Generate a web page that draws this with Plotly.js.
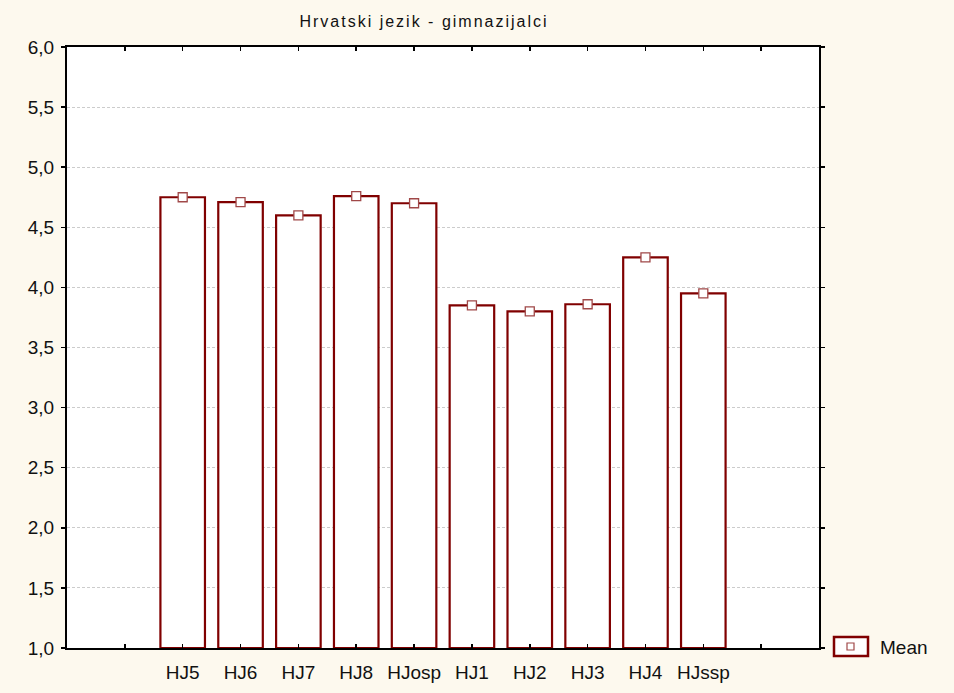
<!DOCTYPE html>
<html>
<head>
<meta charset="utf-8">
<script src="https://cdn.plot.ly/plotly-3.0.1.min.js"></script>
<style>
html,body{margin:0;padding:0;background:#fdf9ee;}
#chart{width:954px;height:693px;}
#chart .gtitle{letter-spacing:2px;}
</style>
</head>
<body>
<div id="chart"></div>
<script>
var categories = ['HJ5', 'HJ6', 'HJ7', 'HJ8', 'HJosp', 'HJ1', 'HJ2', 'HJ3', 'HJ4', 'HJssp'];
var means = [4.75, 4.71, 4.60, 4.76, 4.70, 3.85, 3.80, 3.86, 4.25, 3.95];
var padCategories = [' ', '  '];
var yTicks = [1.0, 1.5, 2.0, 2.5, 3.0, 3.5, 4.0, 4.5, 5.0, 5.5, 6.0];
var yTickLabels = ['1,0', '1,5', '2,0', '2,5', '3,0', '3,5', '4,0', '4,5', '5,0', '5,5', '6,0'];
var titleText = 'Hrvatski jezik - gimnazijalci';
var legendLabel = 'Mean';

var allCats = [padCategories[0]].concat(categories).concat([padCategories[1]]);
var base = 1.0;
var FONT = 'Arial, "Liberation Sans", sans-serif';

var traces = [
  {
    type: 'scatter', mode: 'markers', x: padCategories, y: [null, null],
    showlegend: false, hoverinfo: 'skip'
  },
  {
    type: 'bar', x: categories,
    y: means.map(function (v) { return v - base; }),
    base: base,
    width: 0.77,
    marker: { color: '#ffffff', line: { color: '#800000', width: 2.2 } },
    showlegend: false, hoverinfo: 'skip'
  },
  {
    type: 'scatter', mode: 'markers', x: categories, y: means,
    marker: { symbol: 'square', size: 9, color: '#ffffff', line: { color: '#a04848', width: 1.3 } },
    showlegend: false, hoverinfo: 'skip'
  }
];

var layout = {
  width: 954, height: 693,
  paper_bgcolor: '#fdf9ee',
  plot_bgcolor: '#ffffff',
  margin: { l: 67, r: 135, t: 47, b: 45 },
  showlegend: false,
  title: {
    text: titleText,
    font: { family: FONT, size: 16, color: '#111' },
    x: 424 / 954, xanchor: 'center', y: 1 - 21 / 693, yanchor: 'middle'
  },
  bargap: 0,
  xaxis: {
    type: 'category',
    categoryorder: 'array', categoryarray: allCats,
    range: [-1, 12],
    showline: true, linecolor: '#000', linewidth: 2, mirror: 'ticks',
    ticks: 'inside', ticklen: 4, tickwidth: 1.5, tickcolor: '#000',
    ticklabelstandoff: 6,
    showgrid: false, zeroline: false,
    tickfont: { family: FONT, size: 19, color: '#111' }
  },
  yaxis: {
    range: [1, 6],
    tickvals: yTicks, ticktext: yTickLabels,
    showline: true, linecolor: '#000', linewidth: 2, mirror: 'ticks',
    ticks: 'outside', ticklen: 4, tickwidth: 1.5, tickcolor: '#000',
    ticklabelstandoff: 3,
    showgrid: true, gridcolor: '#cccccc', griddash: '3px,2px', gridwidth: 1,
    zeroline: false,
    tickfont: { family: FONT, size: 19, color: '#111' }
  },
  shapes: [
    { type: 'rect', xref: 'paper', yref: 'paper',
      x0: (834 - 67) / 752, x1: (868 - 67) / 752,
      y0: (648 - 656) / 601, y1: (648 - 637) / 601,
      line: { color: '#800000', width: 2.5 }, fillcolor: '#ffffff' },
    { type: 'rect', xref: 'paper', yref: 'paper',
      x0: (847 - 67) / 752, x1: (854 - 67) / 752,
      y0: (648 - 650) / 601, y1: (648 - 643) / 601,
      line: { color: '#a04848', width: 1.2 }, fillcolor: '#ffffff' }
  ],
  annotations: [
    { xref: 'paper', yref: 'paper', x: (878 - 67) / 752, y: (648 - 647) / 601,
      xanchor: 'left', yanchor: 'middle', showarrow: false, text: legendLabel,
      font: { family: FONT, size: 19, color: '#111' } }
  ]
};

Plotly.newPlot('chart', traces, layout, { displayModeBar: false, staticPlot: true });
</script>
</body>
</html>
